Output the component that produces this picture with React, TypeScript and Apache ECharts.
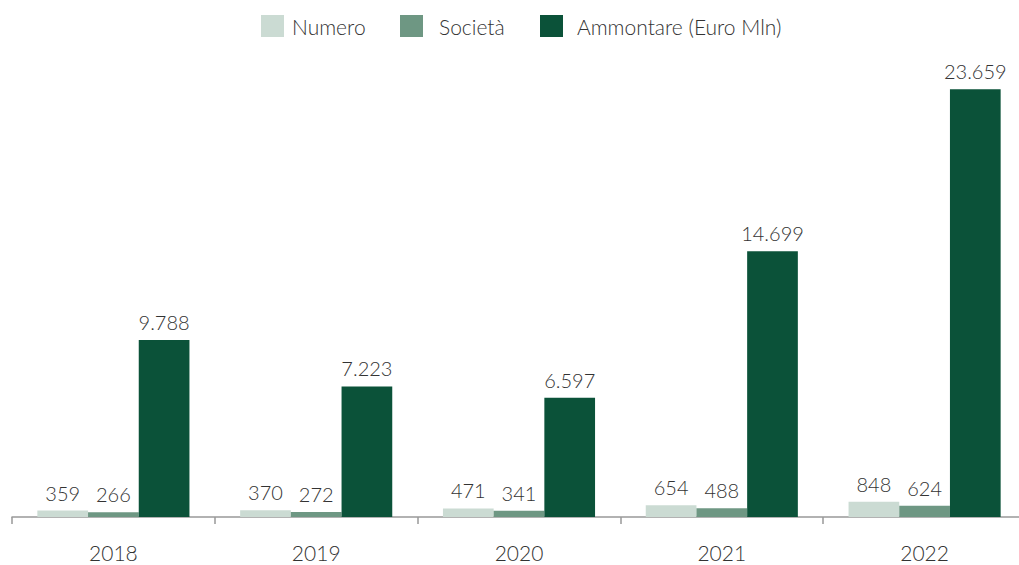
import React, { useEffect, useRef } from "react";
import * as echarts from "echarts";

const categories = ["2018", "2019", "2020", "2021", "2022"];
const numero = [359, 370, 471, 654, 848];
const societa = [266, 272, 341, 488, 624];
const ammontare = [9788, 7223, 6597, 14699, 23659];
const seriesNames = ["Numero", "Società", "Ammontare (Euro Mln)"];
const colors = ["#cbdbd3", "#6e9783", "#0b5239"];

const fmt = (v: number) => String(v).replace(/\B(?=(\d{3})+(?!\d))/g, ".");

export default function App() {
  const ref = useRef<HTMLDivElement>(null);
  useEffect(() => {
    if (!ref.current) return;
    const chart = echarts.init(ref.current, undefined, { renderer: "svg" });
    const font = "Lato, 'Noto Sans', sans-serif";
    const mk = (name: string, data: number[], color: string) => ({
      name,
      type: "bar",
      data,
      barGap: "0%",
      barCategoryGap: "25%",
      itemStyle: { color },
      label: {
        show: true,
        position: "top",
        distance: 8,
        formatter: (p: any) => fmt(p.value),
        color: "#333",
        fontSize: 20,
        fontWeight: 300,
        fontFamily: font,
      },
    });
    const lg = (name: string, left: number, pad: number) => ({
      top: 10,
      left,
      itemWidth: 23,
      itemHeight: 22,
      icon: "rect",
      textStyle: {
        fontSize: 21,
        fontWeight: 300,
        color: "#333",
        fontFamily: font,
        padding: [0, 0, 0, pad],
      },
      data: [name],
    });
    chart.setOption({
      animation: false,
      textStyle: { fontFamily: font },
      legend: [lg(seriesNames[0], 256, 3), lg(seriesNames[1], 395, 11), lg(seriesNames[2], 535, 9)],
      grid: { left: 12, right: 0, top: 65, bottom: 48, containLabel: false },
      xAxis: {
        type: "category",
        data: categories,
        axisLine: { lineStyle: { color: "#999", width: 1.5 } },
        axisTick: { show: true, length: 7, lineStyle: { color: "#999", width: 1.5 } },
        axisLabel: { color: "#333", fontSize: 21, fontWeight: 300, margin: 25, fontFamily: font },
      },
      yAxis: {
        type: "value",
        min: 0,
        max: 25000,
        show: false,
        splitLine: { show: false },
      },
      series: [
        mk(seriesNames[0], numero, colors[0]),
        mk(seriesNames[1], societa, colors[1]),
        mk(seriesNames[2], ammontare, colors[2]),
      ],
    });
    return () => chart.dispose();
  }, []);
  return (
    <div style={{ width: 1019, height: 565, position: "absolute", left: 0, top: 0, overflow: "hidden" }}>
      <div ref={ref} style={{ width: 1026, height: 565 }} />
    </div>
  );
}
